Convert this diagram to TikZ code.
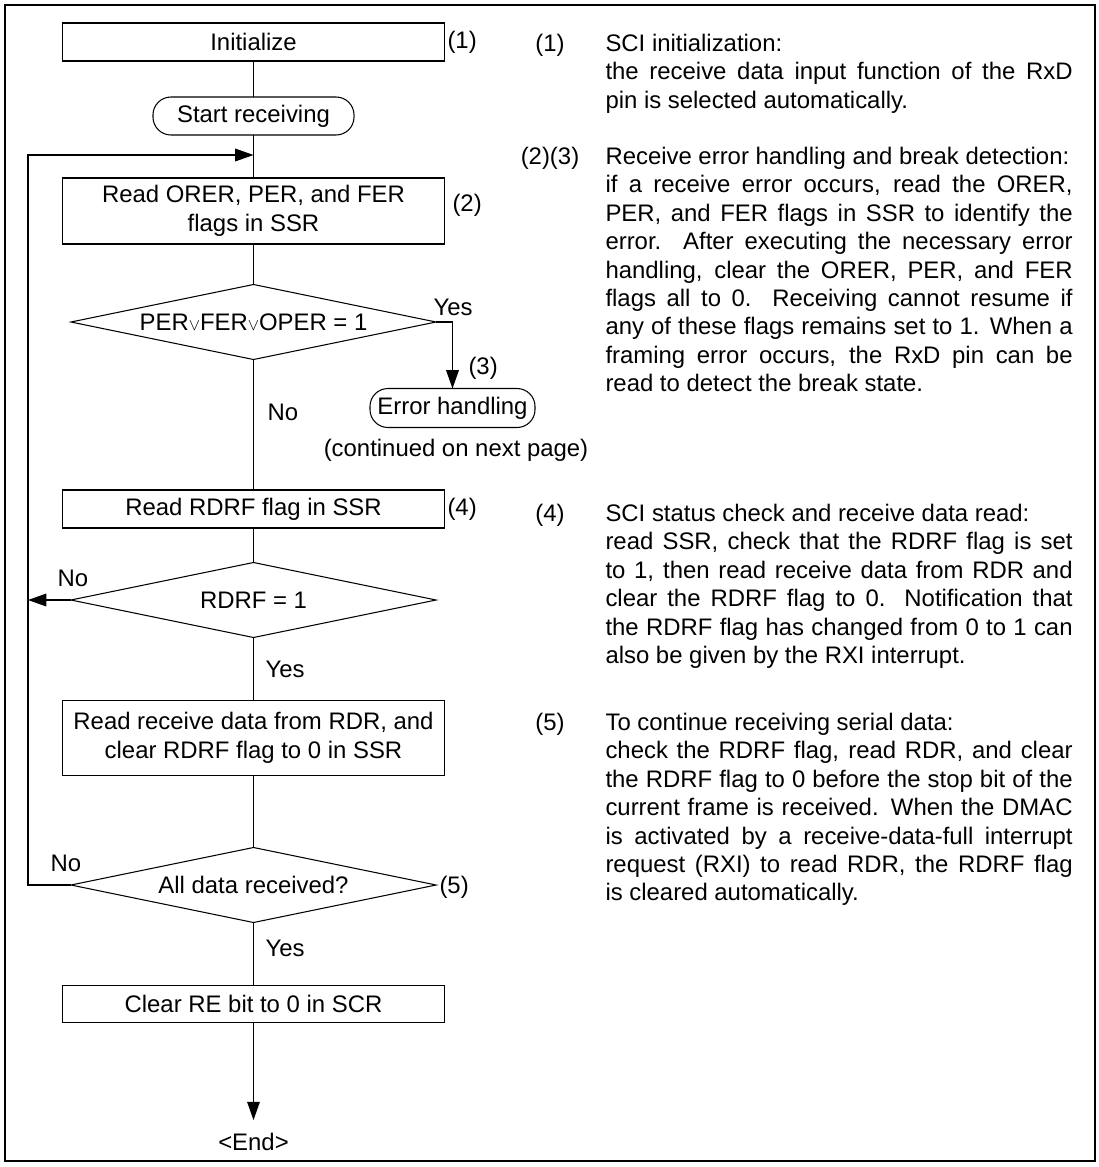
\documentclass[tikz,border=0pt]{standalone}
\usepackage{fontspec}
\setmainfont{Liberation Sans}
\usepackage{tikz}
\usetikzlibrary{arrows.meta, shapes.geometric}

\tolerance=9999
\hyphenpenalty=10000
\exhyphenpenalty=10000

\newcommand{\orsym}{{\fontsize{12}{12}\selectfont$\vee$}}

\begin{document}
\begin{tikzpicture}[x=0.025cm, y=-0.025cm, line width=0.75pt,
    font=\fontsize{17}{20.2}\selectfont,
    procbox/.style={rectangle, draw, outer sep=0pt, inner xsep=2pt, minimum width=9.525cm, minimum height=0.95cm, align=center},
    termbox/.style={rectangle, draw, rounded corners=0.45cm, outer sep=0pt, inner xsep=2pt, minimum height=0.95cm},
    testbox/.style={diamond, draw, outer sep=0pt, inner sep=0pt, aspect=4.9, minimum width=9.125cm, minimum height=1.875cm},
    steplabel/.style={anchor=west, inner sep=0pt},
    numtag/.style={anchor=base, inner sep=0pt},
    descr/.style={anchor=base west, inner sep=0pt, text width=11.675cm, align=justify},
    arrowline/.style={-{Triangle[length=13pt, width=9pt]}}]

    \useasboundingbox (0,0) rectangle (1099,1167);
    \draw (5,5) rectangle (1095,1161);

    % Flowchart
    \node[procbox] (init) at (253.5,42) {Initialize};
    \node[termbox, minimum width=5.025cm] (start_rx) at (253.5,116) {Start receiving};
    \node[procbox, minimum height=1.65cm] (read_err) at (253.5,211) {Read ORER, PER, and FER\\flags in SSR};
    \node[testbox] (err_chk) at (253.5,322) {PER\orsym FER\orsym OPER = 1};
    \node[termbox, minimum width=4.125cm, minimum height=0.975cm] (err_hdl) at (452.5,408) {Error handling};
    \node (cont) at (456,450) {(continued on next page)};
    \node[procbox] (read_rdrf) at (253.5,509) {Read RDRF flag in SSR};
    \node[testbox] (rdrf_chk) at (253.5,600) {RDRF = 1};
    \node[procbox, minimum height=1.875cm] (read_rdr) at (253.5,738) {Read receive data from RDR, and\\clear RDRF flag to 0 in SSR};
    \node[testbox] (all_chk) at (253.5,885) {All data received?};
    \node[procbox, minimum height=0.925cm] (clear_re) at (253.5,1004) {Clear RE bit to 0 in SCR};
    \node[inner sep=9pt] (end_node) at (253.5,1142) {<End>};

    \coordinate (loop_top) at (28,155);
    \coordinate (join) at (253.5,155);

    % Step numbers beside the chart
    \node[steplabel] (lbl1) at (447,42) {(1)};
    \node[steplabel] (lbl2) at (452,205) {(2)};
    \node[steplabel] (lbl3) at (468,368) {(3)};
    \node[steplabel] (lbl4) at (447,509) {(4)};
    \node[steplabel] (lbl5) at (439,887) {(5)};

    % Branch labels
    \node (yes_err) at (453,307) {Yes};
    \node (no_err) at (283,412) {No};
    \node (no_rdrf) at (73,578) {No};
    \node (yes_rdrf) at (285,669) {Yes};
    \node (no_all) at (66,863) {No};
    \node (yes_all) at (285,948) {Yes};

    % Connectors
    \draw (init) -- (start_rx);
    \draw (start_rx) -- (read_err);
    \draw (read_err) -- (err_chk);
    \draw[arrowline] (err_chk.east) -| (err_hdl.north);
    \draw (err_chk) -- (read_rdrf);
    \draw (read_rdrf) -- (rdrf_chk);
    \draw[arrowline] (rdrf_chk.west) -- (rdrf_chk.west -| loop_top);
    \draw (rdrf_chk) -- (read_rdr);
    \draw (read_rdr) -- (all_chk);
    \draw[arrowline] (all_chk.west) -| (loop_top) -- (join);
    \draw (all_chk) -- (clear_re);
    \draw[arrowline] (clear_re) -- (end_node);

    % Notes
    \node[numtag] (n1) at (550,51.5) {(1)};
    \node[descr] (d1) at (605,51.5) {SCI initialization:\\the receive data input function of the RxD\linebreak pin is selected automatically.};

    \node[numtag] (n23) at (550,164.5) {(2)(3)};
    \node[descr] (d23) at (605,164.5) {Receive error handling and break detection:\\if a receive error occurs, read the ORER,\linebreak PER, and FER flags in SSR to identify the\linebreak error.  After executing the necessary error\linebreak handling, clear the ORER, PER, and FER\linebreak flags all to 0.  Receiving cannot resume if\linebreak any of these flags remains set to 1.  When a\linebreak framing error occurs, the RxD pin can be\linebreak read to detect the break state.};

    \node[numtag] (n4) at (550,521.5) {(4)};
    \node[descr] (d4) at (605,521.5) {SCI status check and receive data read:\\read SSR, check that the RDRF flag is set\linebreak to 1, then read receive data from RDR and\linebreak clear the RDRF flag to 0.  Notification that\linebreak the RDRF flag has changed from 0 to 1 can\linebreak also be given by the RXI interrupt.};

    \node[numtag] (n5) at (550,730.5) {(5)};
    \node[descr] (d5) at (605,730.5) {To continue receiving serial data:\\check the RDRF flag, read RDR, and clear\linebreak the RDRF flag to 0 before the stop bit of the\linebreak current frame is received.  When the DMAC\linebreak is activated by a receive-data-full interrupt\linebreak request (RXI) to read RDR, the RDRF flag\linebreak is cleared automatically.};
\end{tikzpicture}
\end{document}
